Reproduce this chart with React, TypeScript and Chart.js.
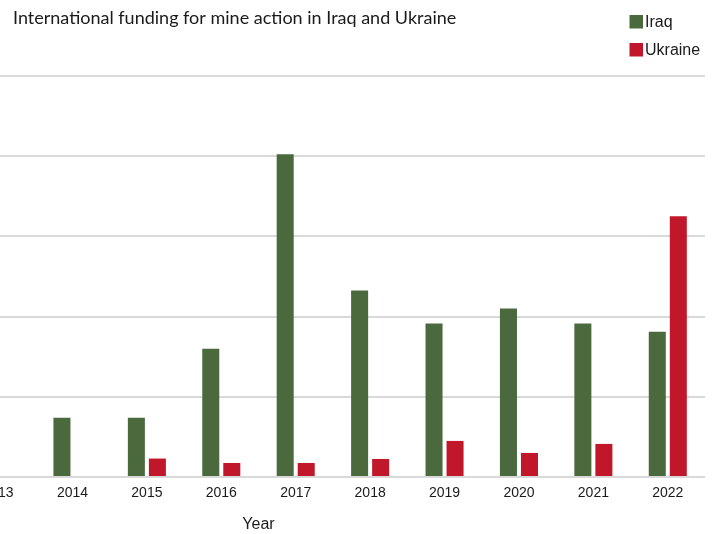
import React, { useEffect, useRef } from "react";
import { Chart, registerables } from "chart.js";

Chart.register(...registerables);

const years = ["2011", "2012", "2013", "2014", "2015", "2016", "2017", "2018", "2019", "2020", "2021", "2022"];
const iraq = [null, null, null, 14.8, 14.75, 32, 80.5, 46.5, 38.25, 42, 38.25, 36.25];
const ukraine = [null, null, null, null, 4.6, 3.5, 3.5, 4.5, 9, 6, 8.25, 65];
const chartTitle = "International funding for mine action in Iraq and Ukraine";
const xTitle = "Year";

const SHIFT = 220; // canvas starts left of the visible page (cropped chart)

const titlePlugin = {
  id: "croppedTitle",
  afterDraw(chart: any) {
    const ctx = chart.ctx;
    ctx.save();
    ctx.fillStyle = "#1a1a1a";
    ctx.font = "18px Lato";
    ctx.textBaseline = "alphabetic";
    ctx.textAlign = "left";
    ctx.fillText(chartTitle, SHIFT + 13, 23.5);
    // legend
    ctx.font = "16px 'Liberation Sans'";
    ctx.textBaseline = "middle";
    chart.data.datasets.forEach((ds: any, i: number) => {
      const x = SHIFT + 629.5;
      const y = 15 + i * 28;
      ctx.fillStyle = ds.backgroundColor;
      ctx.fillRect(x, y, 13.5, 13.5);
      ctx.fillStyle = "#1a1a1a";
      ctx.fillText(ds.label, x + 15.5, y + 7.5);
    });
    ctx.restore();
  },
};

export default function App() {
  const ref = useRef<HTMLCanvasElement>(null);
  useEffect(() => {
    if (!ref.current) return;
    const chart = new Chart(ref.current, {
      type: "bar",
      data: {
        labels: years,
        datasets: [
          { label: "Iraq", data: iraq, backgroundColor: "#4a6a3e", categoryPercentage: 0.565, barPercentage: 0.81 },
          { label: "Ukraine", data: ukraine, backgroundColor: "#c0182a", categoryPercentage: 0.565, barPercentage: 0.81 },
        ],
      },
      options: {
        responsive: false,
        animation: false,
        layout: { padding: { left: 32, right: 10, top: 76, bottom: 0 } },
        plugins: {
          legend: { display: false },
          title: { display: false },
          tooltip: { enabled: false },
        },
        scales: {
          x: {
            grid: { display: false, drawTicks: false },
            border: { display: false },
            ticks: {
              color: "#1a1a1a",
              padding: 8,
              font: { family: "'Liberation Sans', Arial, sans-serif", size: 14 },
              maxRotation: 0,
              autoSkip: false,
            },
            title: {
              display: true,
              text: xTitle,
              color: "#1a1a1a",
              font: { family: "'Liberation Sans', Arial, sans-serif", size: 16 },
              padding: { top: 5, bottom: 0 },
            },
          },
          y: {
            min: 0,
            max: 100,
            ticks: { display: false, stepSize: 20 },
            grid: { color: "#d9d9d9", lineWidth: 2, drawTicks: false },
            border: { display: false },
          },
        },
      },
      plugins: [titlePlugin],
    });
    return () => chart.destroy();
  }, []);
  return (
    <div style={{ position: "absolute", left: 0, top: 0, width: 715, height: 534, overflow: "hidden", background: "#fff" }}>
      <canvas ref={ref} width={935} height={534} style={{ position: "absolute", left: -SHIFT, top: 0, width: 935, height: 534, display: "block" }} />
    </div>
  );
}
